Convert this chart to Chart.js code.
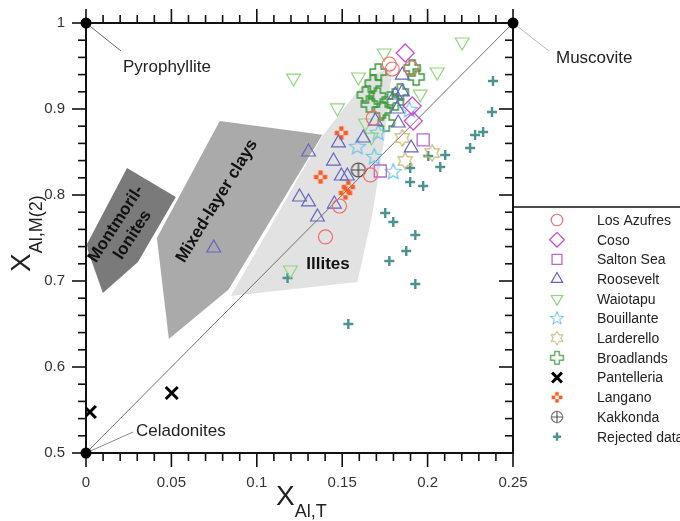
<!DOCTYPE html>
<html><head><meta charset="utf-8">
<script src="https://cdn.jsdelivr.net/npm/chart.js@4/dist/chart.umd.min.js"></script>
<style>html,body{margin:0;padding:0;background:#fff;}#wrap{width:680px;height:521px;position:relative;}</style>
</head><body><div id="wrap"><canvas id="c" width="680" height="521"></canvas></div>
<script>
// ---------- axis settings ----------
const xTickLabels = ['0','0.05','0.1','0.15','0.2','0.25'];
const yTickLabels = ['0.5','0.6','0.7','0.8','0.9','1'];

// ---------- series data ----------
const seriesNames = ['Los Azufres','Coso','Salton Sea','Roosevelt','Waiotapu','Bouillante','Larderello','Broadlands','Pantelleria','Langano','Kakkonda','Rejected data'];

const losAzufresX = [0.1776,0.1793,0.1904,0.1682,0.1665,0.1484,0.1402];
const losAzufresY = [0.9523,0.9465,0.9477,0.8895,0.8233,0.7872,0.7512];

const cosoX = [0.1869,0.1910,0.1916];
const cosoY = [0.9651,0.9035,0.8860];

const saltonSeaX = [0.1974,0.1723];
const saltonSeaY = [0.8640,0.8279];

const rooseveltX = [0.0748,0.1250,0.1303,0.1355,0.1454,0.1303,0.1478,0.1449,0.1495,0.1530,0.1624,0.1694,0.1822,0.1828,0.1852,0.1852,0.1904,0.1811];
const rooseveltY = [0.7384,0.7977,0.7919,0.7744,0.7895,0.8500,0.8605,0.8395,0.8221,0.8221,0.8663,0.8860,0.9000,0.8837,0.9198,0.9395,0.8547,0.9163];

const waiotapuX = [0.1215,0.1595,0.1746,0.2202,0.2056,0.1957,0.1472,0.1636,0.1671,0.1197];
const waiotapuY = [0.9360,0.9372,0.9651,0.9779,0.9430,0.9174,0.9012,0.8837,0.8674,0.7128];

const bouillanteX = [0.1589,0.1711,0.1688,0.1799,0.1893];
const bouillanteY = [0.8558,0.8721,0.8442,0.8267,0.8988];

const larderelloX = [0.1852,0.2027,0.1869];
const larderelloY = [0.8663,0.8488,0.8395];

const broadlandsX = [0.1711,0.1682,0.1910,0.1933,0.1636,0.1706,0.1659,0.1782,0.1840,0.1811,0.1758,0.1735];
const broadlandsY = [0.9430,0.9302,0.9477,0.9372,0.9163,0.9151,0.9058,0.9105,0.9198,0.9081,0.8837,0.8988];

const pantelleriaX = [0.0023,0.0502];
const pantelleriaY = [0.5477,0.5698];

const langanoX = [0.1495,0.1373,0.1519,0.1536];
const langanoY = [0.8721,0.8209,0.8023,0.8093];

const kakkondaX = [0.1595];
const kakkondaY = [0.8291];

const rejectedX = [0.2383,0.2377,0.2278,0.2325,0.2249,0.2004,0.2103,0.2074,0.1898,0.1898,0.1974,0.1752,0.1799,0.1928,0.1875,0.1776,0.1928,0.1180,0.1536];
const rejectedY = [0.9326,0.8965,0.8698,0.8733,0.8547,0.8453,0.8465,0.8326,0.8314,0.8151,0.8105,0.7791,0.7686,0.7535,0.7349,0.7233,0.6965,0.7035,0.6500];

// ---------- end members & reference line ----------
const endMemberNames = ['Pyrophyllite','Muscovite','Celadonites'];
const endMemberX = [0, 0.25, 0];
const endMemberY = [1, 1, 0.5];
const refLineX = [0, 0.25];
const refLineY = [0.5, 1];

// ---------- fields ----------
const regionNames = ['Mixed-layer clays','Illites','Montmorillonites'];
const mixedX = [0.0783,0.1384,0.0835,0.0485,0.0415];
const mixedY = [0.8860,0.8700,0.6900,0.6326,0.7500];
const illiteX = [0.0847,0.1384,0.1665,0.1793,0.1746,0.1676,0.1589];
const illiteY = [0.6826,0.8686,0.9395,0.9477,0.8640,0.7767,0.6988];
const montX = [0.0240,0.0526,0.0304,0.0099,0.0010,0.0006];
const montY = [0.8314,0.7977,0.7221,0.6860,0.7360,0.7430];

// ---------- helpers ----------
const FONT = "'Liberation Sans', Arial, Helvetica, sans-serif";
const pts = (xs, ys) => xs.map((x, i) => ({x: x, y: ys[i]}));
function mk(size, draw){
  const c = document.createElement('canvas'); c.width = size; c.height = size;
  const g = c.getContext('2d'); g.translate(size/2, size/2); draw(g); return c;
}
const starImg = mk(20, g => {
  g.beginPath();
  for (let i = 0; i < 10; i++) { const r = i % 2 ? 3.7 : 8.3; const a = -Math.PI/2 + i*Math.PI/5; g.lineTo(r*Math.cos(a), r*Math.sin(a)); }
  g.closePath(); g.strokeStyle = '#6cc3ea'; g.lineWidth = 1.2; g.stroke();
});
const hexImg = mk(20, g => {
  g.beginPath();
  for (let i = 0; i < 12; i++) { const r = i % 2 ? 4.8 : 8.3; const a = -Math.PI/2 + i*Math.PI/6; g.lineTo(r*Math.cos(a), r*Math.sin(a)); }
  g.closePath(); g.strokeStyle = '#c6b971'; g.lineWidth = 1.2; g.stroke();
});
const plusImg = mk(20, g => {
  const a = 2.9, b = 8;
  const v = [[-a,-b],[a,-b],[a,-a],[b,-a],[b,a],[a,a],[a,b],[-a,b],[-a,a],[-b,a],[-b,-a],[-a,-a]];
  g.beginPath(); v.forEach(p => g.lineTo(p[0], p[1])); g.closePath();
  g.strokeStyle = '#3a9a3a'; g.lineWidth = 1.5; g.stroke();
});
const langImg = mk(16, g => {
  g.fillStyle = '#ff5a1e'; const s = 4.4;
  [[0,-4.4],[0,4.4],[-4.4,0],[4.4,0]].forEach(p => g.fillRect(p[0]-s/2, p[1]-s/2, s, s));
});
const kakImg = mk(18, g => {
  g.strokeStyle = '#444'; g.lineWidth = 1.2;
  g.beginPath(); g.arc(0, 0, 7, 0, Math.PI*2); g.stroke();
  g.beginPath(); g.moveTo(-7,0); g.lineTo(7,0); g.moveTo(0,-7); g.lineTo(0,7); g.stroke();
});

function series(i, xs, ys, style, color, radius, bw, rot){
  return {label: seriesNames[i], data: pts(xs, ys), pointStyle: style, pointRadius: radius,
    pointBorderColor: color, pointBackgroundColor: 'rgba(0,0,0,0)', pointBorderWidth: bw,
    pointRotation: rot || 0, showLine: false, isSeries: true, mcolor: color};
}

const datasets = [
  series(0, losAzufresX, losAzufresY, 'circle', '#f26d6d', 7, 1.2),
  series(1, cosoX, cosoY, 'rectRot', '#c94fd0', 9, 1.3),
  series(2, saltonSeaX, saltonSeaY, 'rect', '#b866d6', 8.5, 1.3),
  series(3, rooseveltX, rooseveltY, 'triangle', '#6464c2', 8, 1.2),
  series(4, waiotapuX, waiotapuY, 'triangle', '#8ed67a', 8, 1.2, 180),
  series(5, bouillanteX, bouillanteY, starImg, '#6cc3ea', 8, 1.2),
  series(6, larderelloX, larderelloY, hexImg, '#c6b971', 8, 1.2),
  series(7, broadlandsX, broadlandsY, plusImg, '#3a9a3a', 8, 1.5),
  series(8, pantelleriaX, pantelleriaY, 'crossRot', '#000', 8.5, 3),
  series(9, langanoX, langanoY, langImg, '#ff5a1e', 6, 1),
  series(10, kakkondaX, kakkondaY, kakImg, '#444', 7, 1.2),
  series(11, rejectedX, rejectedY, 'cross', '#4c9290', 5, 2.4),
  {label: 'endmembers', data: pts(endMemberX, endMemberY), pointStyle: 'circle', pointRadius: 5.5,
    pointBackgroundColor: '#000', pointBorderColor: '#000', pointBorderWidth: 0, showLine: false, clip: false},
  {label: 'ref', data: pts(refLineX, refLineY), showLine: true, borderColor: '#707070', borderWidth: 1,
    pointRadius: 0, fill: false}
];

const regions = [
  {x: mixedX, y: mixedY, color: '#aaaaaa'},
  {x: illiteX, y: illiteY, color: '#e2e2e2'},
  {x: montX, y: montY, color: '#7a7a7a'}
];

const backPlugin = {
  id: 'back',
  beforeDatasetsDraw(chart){
    const ctx = chart.ctx, xs = chart.scales.x, ys = chart.scales.y, a = chart.chartArea;
    ctx.save();
    regions.forEach(r => {
      ctx.beginPath();
      r.x.forEach((v, i) => ctx.lineTo(xs.getPixelForValue(v), ys.getPixelForValue(r.y[i])));
      ctx.closePath(); ctx.fillStyle = r.color; ctx.fill();
    });
    // region labels
    ctx.fillStyle = '#111'; ctx.textAlign = 'center'; ctx.textBaseline = 'middle';
    ctx.font = 'bold 17px ' + FONT;
    ctx.save(); ctx.translate(217, 201); ctx.rotate(-58.5*Math.PI/180); ctx.fillText(regionNames[0], 0, 0); ctx.restore();
    ctx.fillText(regionNames[1], 328, 264);
    ctx.save(); ctx.translate(116, 224); ctx.rotate(-57*Math.PI/180); ctx.fillText('Montmoril-', 0, 0); ctx.fillText('lonites', 0, 20); ctx.restore();

    // frame and ticks
    ctx.strokeStyle = '#111'; ctx.lineWidth = 1.6;
    const line = (x1,y1,x2,y2) => { ctx.beginPath(); ctx.moveTo(x1,y1); ctx.lineTo(x2,y2); ctx.stroke(); };
    for (let i = 0; i <= 25; i++) {
      const px = xs.getPixelForValue(i*0.01); const L = i % 5 === 0 ? 14 : 8;
      line(px, a.bottom, px, a.bottom + L);
      line(px, a.top, px, a.top - L);
    }
    for (let i = 0; i <= 25; i++) {
      const py = ys.getPixelForValue(0.5 + i*0.02); const L = i % 5 === 0 ? 14 : 8;
      line(a.left, py, a.left - L, py);
      line(a.right, py, a.right - L, py);
    }
    ctx.lineWidth = 2;
    ctx.strokeRect(a.left, a.top, a.right - a.left, a.bottom - a.top);
    // legend box top border
    ctx.lineWidth = 1.5; line(a.right, 207, 680, 207);

    // end member leader lines + labels
    const p0 = [xs.getPixelForValue(endMemberX[0]), ys.getPixelForValue(endMemberY[0])];
    const p1 = [xs.getPixelForValue(endMemberX[1]), ys.getPixelForValue(endMemberY[1])];
    const p2 = [xs.getPixelForValue(endMemberX[2]), ys.getPixelForValue(endMemberY[2])];
    ctx.lineWidth = 1;
    ctx.strokeStyle = '#666'; line(p0[0], p0[1], p0[0]+35, p0[1]+28);
    ctx.strokeStyle = '#bbb'; line(p1[0], p1[1], p1[0]+36, p1[1]+28);
    ctx.strokeStyle = '#888'; line(p2[0], p2[1], p2[0]+47, p2[1]-21);
    ctx.fillStyle = '#222'; ctx.font = '17px ' + FONT; ctx.textAlign = 'left'; ctx.textBaseline = 'middle';
    ctx.fillText(endMemberNames[0], p0[0]+37, p0[1]+44);
    ctx.fillText(endMemberNames[1], p1[0]+43, p1[1]+35);
    ctx.fillText(endMemberNames[2], p2[0]+50, p2[1]-22);

    // axis titles
    ctx.fillStyle = '#222'; ctx.textBaseline = 'alphabetic';
    ctx.font = '28px ' + FONT; ctx.fillText('X', 276, 505);
    let w = ctx.measureText('X').width;
    ctx.font = '18px ' + FONT; ctx.fillText('Al,T', 276 + w, 517);
    ctx.save(); ctx.translate(30, 272); ctx.rotate(-Math.PI/2);
    ctx.font = '28px ' + FONT; ctx.fillText('X', 0, 0);
    w = ctx.measureText('X').width;
    ctx.font = '18px ' + FONT; ctx.fillText('Al,M(2)', w, 12);
    ctx.restore();
    ctx.restore();
  },
  afterDraw(chart){
    const ctx = chart.ctx;
    ctx.save();
    const sets = chart.data.datasets.filter(d => d.isSeries);
    sets.forEach((d, i) => {
      const y = 220 + i*19.7, x = 557;
      ctx.save();
      ctx.translate(x, y);
      if (typeof d.pointStyle !== 'string') ctx.scale(0.8, 0.8);
      ctx.strokeStyle = d.mcolor; ctx.fillStyle = 'rgba(0,0,0,0)'; ctx.lineWidth = d.pointBorderWidth;
      Chart.helpers.drawPoint(ctx, {pointStyle: d.pointStyle, rotation: d.pointRotation, radius: d.pointRadius*0.82, borderWidth: d.pointBorderWidth}, 0, 0);
      ctx.restore();
      ctx.fillStyle = '#222'; ctx.font = '14px ' + FONT; ctx.textAlign = 'left'; ctx.textBaseline = 'middle';
      ctx.fillText(d.label, 597, y + 1);
    });
    ctx.restore();
  }
};

new Chart(document.getElementById('c'), {
  type: 'scatter',
  data: {datasets: datasets},
  options: {
    responsive: false, animation: false, devicePixelRatio: 1, events: [],
    layout: {padding: {left: 0, top: 23, right: 167, bottom: 0}},
    plugins: {legend: {display: false}, tooltip: {enabled: false}},
    scales: {
      x: {type: 'linear', min: 0, max: 0.25,
        afterFit: s => { s.height = 68; },
        grid: {display: false, drawTicks: true, tickLength: 14}, border: {display: false},
        ticks: {stepSize: 0.05, padding: 7, color: '#333', font: {family: FONT, size: 15},
          callback: (v, i) => xTickLabels[i]}},
      y: {type: 'linear', min: 0.5, max: 1,
        afterFit: s => { s.width = 86; },
        grid: {display: false, drawTicks: true, tickLength: 14}, border: {display: false},
        ticks: {stepSize: 0.1, padding: 7, color: '#333', font: {family: FONT, size: 15},
          callback: (v, i) => yTickLabels[i]}}
    }
  },
  plugins: [backPlugin]
});
</script></body></html>
